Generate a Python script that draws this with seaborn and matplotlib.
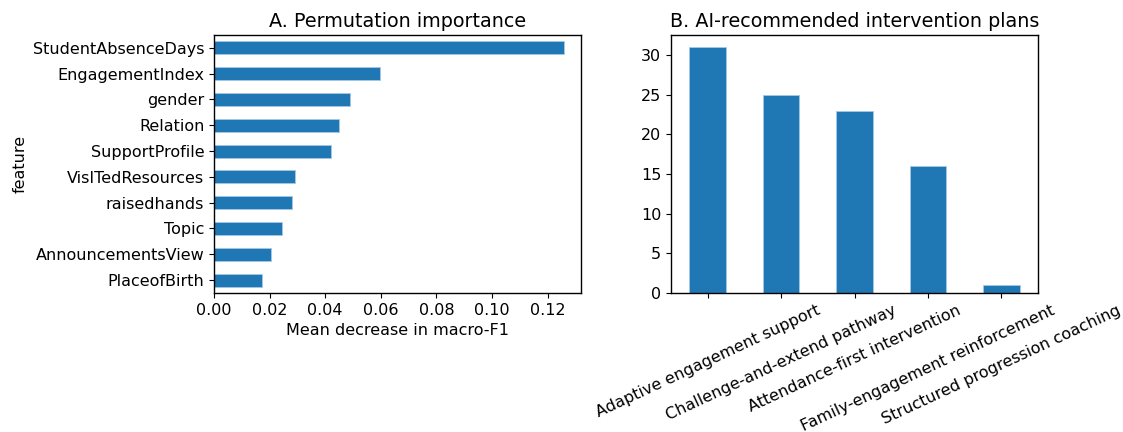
import matplotlib
matplotlib.use("Agg")
import matplotlib.pyplot as plt
import seaborn as sns
import pandas as pd

features = ["StudentAbsenceDays", "EngagementIndex", "gender", "Relation",
            "SupportProfile", "VisITedResources", "raisedhands", "Topic",
            "AnnouncementsView", "PlaceofBirth"]
importance = [0.1257, 0.0597, 0.0490, 0.0450, 0.0420, 0.0291, 0.0281,
              0.0244, 0.0204, 0.0174]

plans = ["Adaptive engagement support", "Challenge-and-extend pathway",
         "Attendance-first intervention", "Family-engagement reinforcement",
         "Structured progression coaching"]
plan_counts = [31, 25, 23, 16, 1]

sns.set_style("ticks")
plt.rcParams["font.family"] = ["DejaVu Sans"]
plt.rcParams.update({
    "text.color": "black",
    "axes.labelcolor": "black",
    "xtick.color": "black",
    "ytick.color": "black",
    "axes.edgecolor": "black",
})

TICK = 11.5
TITLE = 13.8
blue = "#1f77b4"
fig = plt.figure(figsize=(11.23, 4.32), dpi=100)
ax1 = fig.add_axes([214 / 1123, 1 - 293 / 432, 367 / 1123, 258 / 432])
ax2 = fig.add_axes([671 / 1123, 1 - 293 / 432, 367 / 1123, 258 / 432])

imp_df = pd.DataFrame({"feature": features, "importance": importance})
sns.barplot(data=imp_df, x="importance", y="feature", orient="h", ax=ax1,
            color=blue, saturation=1, width=0.5, edgecolor="#a6c8e6",
            linewidth=0.6)
ax1.set_xlim(0, 0.1257 * 1.05)
ax1.set_ylim(len(features) - 0.5, -0.5)
ax1.set_xlabel("Mean decrease in macro-F1", fontsize=TICK)
ax1.set_ylabel("feature", fontsize=TICK)
ax1.set_title("A. Permutation importance", fontsize=TITLE)
ax1.tick_params(labelsize=TICK)

plan_df = pd.DataFrame({"plan": plans, "count": plan_counts})
sns.barplot(data=plan_df, x="plan", y="count", ax=ax2, color=blue,
            saturation=1, width=0.5, edgecolor="#a6c8e6", linewidth=0.6)
ax2.set_xlim(-0.5, len(plans) - 0.5)
ax2.set_ylim(0, 31 * 1.05)
ax2.set_xlabel("")
ax2.set_ylabel("")
ax2.set_title("B. AI-recommended intervention plans", fontsize=TITLE)
ax2.tick_params(labelsize=TICK)
plt.setp(ax2.get_xticklabels(), rotation=25, ha="center")

for ax in (ax1, ax2):
    for s in ax.spines.values():
        s.set_visible(True)
        s.set_linewidth(1.0)
        s.set_color("black")

fig.savefig("out.png", dpi=100)
